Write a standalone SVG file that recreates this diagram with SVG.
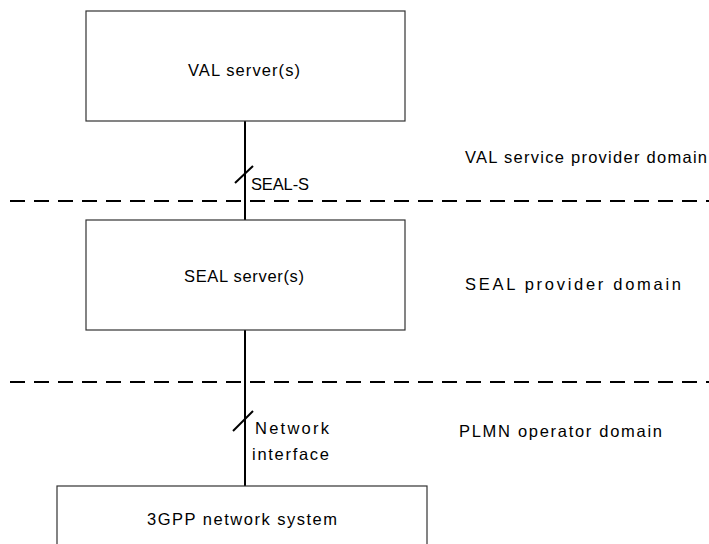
<svg xmlns="http://www.w3.org/2000/svg" width="709" height="544" viewBox="0 0 709 544">
<style>
.box{fill:#fff;stroke:#333;stroke-width:1.2}
.t{font-family:"Liberation Sans",Arial,sans-serif;font-size:16.5px;fill:#000}
.c{stroke:#000;stroke-width:2;fill:none}
.d{stroke:#000;stroke-width:2;stroke-dasharray:15 9;fill:none}
</style>
<rect width="709" height="544" fill="#fff"/>
<g id="domains">
<line class="d" x1="10" y1="201" x2="709" y2="201"/>
<line class="d" x1="10" y1="382" x2="709" y2="382"/>
<text class="t" x="465" y="163" textLength="242" lengthAdjust="spacing">VAL service provider domain</text>
<text class="t" x="465" y="290" textLength="216" lengthAdjust="spacing">SEAL provider domain</text>
<text class="t" x="459" y="437" textLength="203" lengthAdjust="spacing">PLMN operator domain</text>
</g>
<g id="connectors">
<line class="c" x1="245" y1="121" x2="245" y2="220"/>
<line class="c" x1="245" y1="330" x2="245" y2="486"/>
<line class="c" x1="235" y1="183" x2="253" y2="166"/>
<line class="c" x1="233" y1="431" x2="253" y2="411"/>
<text class="t" x="251" y="190" textLength="58" lengthAdjust="spacing">SEAL-S</text>
<text class="t" x="255" y="434" textLength="74" lengthAdjust="spacing">Network</text>
<text class="t" x="252" y="460" textLength="77" lengthAdjust="spacing">interface</text>
</g>
<g id="val">
<rect class="box" x="86" y="11" width="319" height="110"/>
<text class="t" x="188" y="76" textLength="112" lengthAdjust="spacing">VAL server(s)</text>
</g>
<g id="seal">
<rect class="box" x="86" y="220" width="319" height="110"/>
<text class="t" x="184" y="282" textLength="120" lengthAdjust="spacing">SEAL server(s)</text>
</g>
<g id="gpp">
<rect class="box" x="57" y="486" width="370" height="70"/>
<text class="t" x="147" y="525" textLength="190" lengthAdjust="spacing">3GPP network system</text>
</g>
</svg>
